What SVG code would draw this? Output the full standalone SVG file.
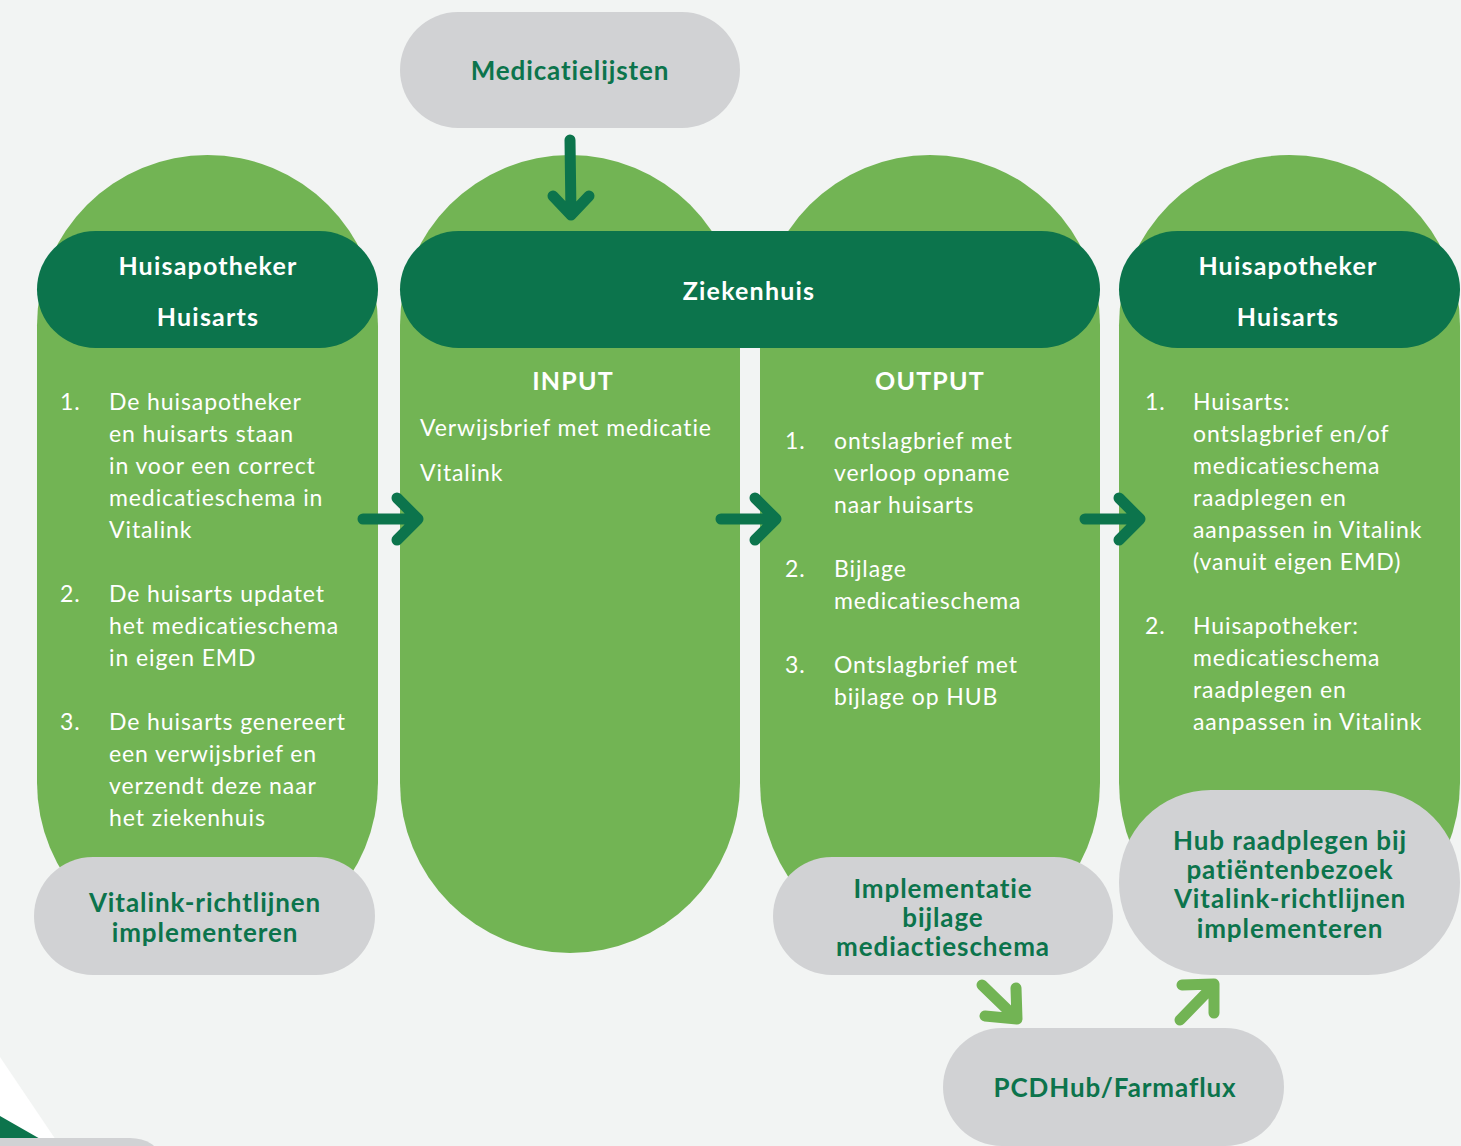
<svg xmlns="http://www.w3.org/2000/svg" width="1461" height="1146" viewBox="0 0 1461 1146">
<style>
.bg{fill:#f2f4f3}
.col{fill:#72b454}
.dark{fill:#0c744c}
.grey{fill:#d1d2d4}
.hd{font-family:Lato,"Liberation Sans",sans-serif;font-weight:700;font-size:25px;fill:#ffffff;text-anchor:middle;letter-spacing:1.2px}
.gt{font-family:Lato,"Liberation Sans",sans-serif;font-weight:700;font-size:26px;fill:#0c744c;text-anchor:middle;letter-spacing:0.9px}
.bd{font-family:Lato,"Liberation Sans",sans-serif;font-weight:400;font-size:23px;fill:#ffffff;letter-spacing:0.9px}
.arr{fill:none;stroke:#0c744c;stroke-width:11;stroke-linecap:round;stroke-linejoin:round}
.arr2{fill:none;stroke:#72b454;stroke-width:11;stroke-linecap:round;stroke-linejoin:round}
</style>
<rect class="bg" x="0" y="0" width="1461" height="1146"/>
<g id="corner">
<polygon points="0,1057 60,1146 0,1146" fill="#ffffff"/>
<polygon points="0,1116 42,1140 0,1140" class="dark"/>
<rect x="-40" y="1138" width="200" height="40" rx="30" class="grey"/>
</g>
<g id="col-left">
<rect class="col" x="37" y="155" width="341" height="798" rx="170.5"/>
</g>
<g id="col-input">
<rect class="col" x="400" y="155" width="340" height="798" rx="170"/>
</g>
<g id="col-output">
<rect class="col" x="760" y="155" width="340" height="798" rx="170"/>
</g>
<g id="col-right">
<rect class="col" x="1119" y="155" width="341" height="798" rx="170.5"/>
</g>
<g id="medicatielijsten">
<rect class="grey" x="400" y="12" width="340" height="116" rx="58"/>
<text class="gt" x="570" y="80">Medicatielijsten</text>
</g>
<g id="huis-left">
<rect class="dark" x="37" y="231" width="341" height="117" rx="58.5"/>
<text class="hd" x="208" y="275">Huisapotheker</text>
<text class="hd" x="208" y="326">Huisarts</text>
</g>
<g id="ziekenhuis">
<rect class="dark" x="400" y="231" width="700" height="117" rx="58.5"/>
<text class="hd" x="749" y="300">Ziekenhuis</text>
</g>
<g id="huis-right">
<rect class="dark" x="1119" y="231" width="341" height="117" rx="58.5"/>
<text class="hd" x="1288" y="275">Huisapotheker</text>
<text class="hd" x="1288" y="326">Huisarts</text>
</g>
<g id="text-left">
<text class="bd" x="60" y="410">1.</text>
<text class="bd" x="109" y="410">De huisapotheker</text>
<text class="bd" x="109" y="442">en huisarts staan</text>
<text class="bd" x="109" y="474">in voor een correct</text>
<text class="bd" x="109" y="506">medicatieschema in</text>
<text class="bd" x="109" y="538">Vitalink</text>
<text class="bd" x="60" y="602">2.</text>
<text class="bd" x="109" y="602">De huisarts updatet</text>
<text class="bd" x="109" y="634">het medicatieschema</text>
<text class="bd" x="109" y="666">in eigen EMD</text>
<text class="bd" x="60" y="730">3.</text>
<text class="bd" x="109" y="730">De huisarts genereert</text>
<text class="bd" x="109" y="762">een verwijsbrief en</text>
<text class="bd" x="109" y="794">verzendt deze naar</text>
<text class="bd" x="109" y="826">het ziekenhuis</text>
</g>
<g id="text-input">
<text class="hd" x="573" y="390">INPUT</text>
<text class="bd" x="420" y="436">Verwijsbrief met medicatie</text>
<text class="bd" x="420" y="481">Vitalink</text>
</g>
<g id="text-output">
<text class="hd" x="930" y="390">OUTPUT</text>
<text class="bd" x="785" y="449">1.</text>
<text class="bd" x="834" y="449">ontslagbrief met</text>
<text class="bd" x="834" y="481">verloop opname</text>
<text class="bd" x="834" y="513">naar huisarts</text>
<text class="bd" x="785" y="577">2.</text>
<text class="bd" x="834" y="577">Bijlage</text>
<text class="bd" x="834" y="609">medicatieschema</text>
<text class="bd" x="785" y="673">3.</text>
<text class="bd" x="834" y="673">Ontslagbrief met</text>
<text class="bd" x="834" y="705">bijlage op HUB</text>
</g>
<g id="text-right">
<text class="bd" x="1145" y="410">1.</text>
<text class="bd" x="1193" y="410">Huisarts:</text>
<text class="bd" x="1193" y="442">ontslagbrief en/of</text>
<text class="bd" x="1193" y="474">medicatieschema</text>
<text class="bd" x="1193" y="506">raadplegen en</text>
<text class="bd" x="1193" y="538">aanpassen in Vitalink</text>
<text class="bd" x="1193" y="570">(vanuit eigen EMD)</text>
<text class="bd" x="1145" y="634">2.</text>
<text class="bd" x="1193" y="634">Huisapotheker:</text>
<text class="bd" x="1193" y="666">medicatieschema</text>
<text class="bd" x="1193" y="698">raadplegen en</text>
<text class="bd" x="1193" y="730">aanpassen in Vitalink</text>
</g>
<g id="vitalink-left">
<rect class="grey" x="34" y="857" width="341" height="118" rx="59"/>
<text class="gt" x="205" y="912">Vitalink-richtlijnen</text>
<text class="gt" x="205" y="942">implementeren</text>
</g>
<g id="implementatie">
<rect class="grey" x="773" y="857" width="340" height="118" rx="59"/>
<text class="gt" x="943" y="898">Implementatie</text>
<text class="gt" x="943" y="927">bijlage</text>
<text class="gt" x="943" y="956">mediactieschema</text>
</g>
<g id="hub-raadplegen">
<rect class="grey" x="1119" y="790" width="341" height="185" rx="92"/>
<text class="gt" x="1290" y="850">Hub raadplegen bij</text>
<text class="gt" x="1290" y="879">patiëntenbezoek</text>
<text class="gt" x="1290" y="908">Vitalink-richtlijnen</text>
<text class="gt" x="1290" y="938">implementeren</text>
</g>
<g id="pcdhub">
<rect class="grey" x="943" y="1028" width="341" height="118" rx="59"/>
<text class="gt" x="1115" y="1097">PCDHub/Farmaflux</text>
</g>
<g id="connectors">
<path class="arr" d="M570,140 L571,215 M553,196 L571,215 L589,196"/>
<path class="arr" d="M363,519 L417,519 M397,498 L418,519 L397,540"/>
<path class="arr" d="M721,519 L775,519 M755,498 L776,519 L755,540"/>
<path class="arr" d="M1085,519 L1139,519 M1119,498 L1140,519 L1119,540"/>
<path class="arr2" d="M982,985 L1015,1017 M985,1016 L1017,1019 L1016,988"/>
<path class="arr2" d="M1180,1020 L1212,987 M1182,985 L1214,984 L1214,1013"/>
</g>
</svg>
